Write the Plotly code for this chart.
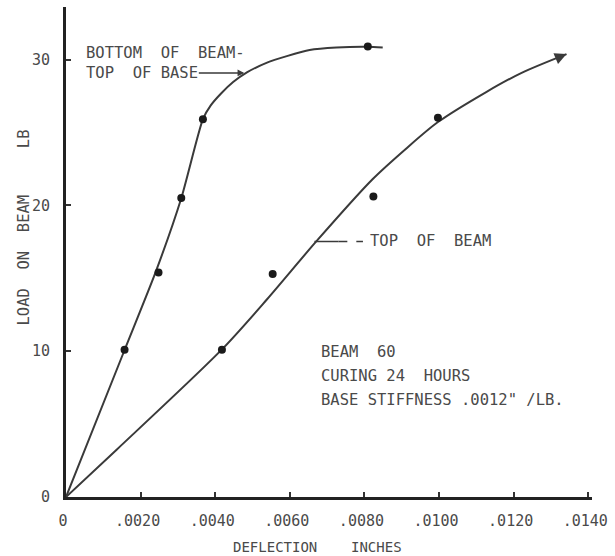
import plotly.graph_objects as go

# ---- data ----
bottom_pts_x = [0.00157, 0.00248, 0.00309, 0.00367, 0.00809]
bottom_pts_y = [10.1, 15.4, 20.5, 25.9, 30.9]
top_pts_x = [0.00418, 0.00554, 0.00824, 0.00997]
top_pts_y = [10.1, 15.3, 20.6, 26.0]

bottom_curve_x = [0, 0.00157, 0.00240, 0.00309, 0.00367, 0.00388, 0.00415, 0.00448,
                  0.00486, 0.00539, 0.00592, 0.00653, 0.00725, 0.00809, 0.00849]
bottom_curve_y = [0, 10.08, 15.4, 20.49, 25.91, 26.85, 27.65, 28.45,
                  29.13, 29.79, 30.23, 30.65, 30.82, 30.87, 30.82]

top_curve_x = [0, 0.001364, 0.00418, 0.00539, 0.00672, 0.008217, 0.0091, 0.00997, 0.011264, 0.0122, 0.013417]
top_curve_y = [0, 3.26, 10.12, 13.56, 17.56, 21.79, 23.85, 25.71, 27.77, 29.07, 30.37]

x_tick_vals = [0, 0.002, 0.004, 0.006, 0.008, 0.010, 0.012, 0.014]
x_tick_text = ["0", ".0020", ".0040", ".0060", ".0080", ".0100", ".0120", ".0140"]
y_tick_vals = [0, 10, 20, 30]
y_tick_text = ["0", "10", "20", "30"]

FONT = "DejaVu Sans Mono"
TXT = "#4a4a4a"
LINE = "#3a3a3a"

fig = go.Figure()
fig.add_trace(go.Scatter(x=bottom_curve_x, y=bottom_curve_y, mode="lines",
                         line=dict(color=LINE, width=2, shape="spline", smoothing=0.6),
                         hoverinfo="skip", showlegend=False))
fig.add_trace(go.Scatter(x=top_curve_x, y=top_curve_y, mode="lines",
                         line=dict(color=LINE, width=2, shape="spline", smoothing=0.8),
                         hoverinfo="skip", showlegend=False))
fig.add_trace(go.Scatter(x=bottom_pts_x, y=bottom_pts_y, mode="markers",
                         marker=dict(color="#1a1a1a", size=8), showlegend=False))
fig.add_trace(go.Scatter(x=top_pts_x, y=top_pts_y, mode="markers",
                         marker=dict(color="#1a1a1a", size=8), showlegend=False))

ann = []
def txt(x, y, s, size=15.5, **kw):
    d = dict(x=x, y=y, text=s, showarrow=False, xanchor="left", yanchor="middle",
             align="left", font=dict(family=FONT, size=size, color=TXT))
    d.update(kw)
    ann.append(d)

txt(0.00049, 29.75, "BOTTOM  OF  BEAM-<br>TOP  OF BASE")
txt(0.00809, 17.56, "TOP  OF  BEAM")
txt(0.00677, 9.95, "BEAM  60")
txt(0.00677, 8.27, "CURING 24  HOURS")
txt(0.00677, 6.66, "BASE STIFFNESS .0012\" /LB.")

# arrow TOP OF BASE -> curve
ann.append(dict(x=0.00478, y=29.08, ax=0.00352, ay=29.08, axref="x", ayref="y",
                xref="x", yref="y", text="", showarrow=True, arrowhead=2,
                arrowsize=0.9, arrowwidth=1.5, arrowcolor=LINE, standoff=0))
# arrow at end of top curve
ann.append(dict(x=0.013417, y=30.37, ax=0.01313, ay=30.06, axref="x", ayref="y",
                xref="x", yref="y", text="", showarrow=True, arrowhead=2,
                arrowsize=1.3, arrowwidth=1.8, arrowcolor=LINE, standoff=0))

# axis titles
ann.append(dict(x=0.478, y=-0.103, xref="paper", yref="paper", text="DEFLECTION    INCHES",
                xanchor="center", yanchor="middle",
                showarrow=False, font=dict(family=FONT, size=14, color=TXT)))
ann.append(dict(x=-0.078, y=0.55, xref="paper", yref="paper", text="LOAD  ON  BEAM     LB",
                xanchor="center", yanchor="middle",
                showarrow=False, textangle=-90, font=dict(family=FONT, size=15.5, color=TXT)))

shapes = [
    dict(type="line", x0=0.00666, x1=0.0073, y0=17.52, y1=17.52, xref="x", yref="y",
         line=dict(color=LINE, width=1.5)),
    dict(type="line", x0=0.0073, x1=0.00796, y0=17.52, y1=17.52, xref="x", yref="y",
         line=dict(color=LINE, width=1.5, dash="dash")),
]

fig.update_layout(
    width=615, height=556,
    margin=dict(l=66, r=16, t=7, b=59),
    paper_bgcolor="white", plot_bgcolor="white",
    annotations=ann, shapes=shapes,
    xaxis=dict(range=[0, 0.0141], tickvals=x_tick_vals, ticktext=x_tick_text,
               showgrid=False, zeroline=False, showline=True, linewidth=3, linecolor="#222",
               ticks="inside", ticklen=5, tickwidth=2, tickcolor="#333",
               ticklabelstandoff=8, ticklabelshift=-3, ticklabeloverflow="allow",
               tickfont=dict(family=FONT, size=15, color=TXT)),
    yaxis=dict(range=[0, 33.6], tickvals=y_tick_vals, ticktext=y_tick_text,
               showgrid=False, zeroline=False, showline=True, linewidth=3, linecolor="#222",
               ticks="inside", ticklen=5, tickwidth=2, tickcolor="#333",
               ticklabelstandoff=10,
               tickfont=dict(family=FONT, size=15, color=TXT)),
)

fig.write_html("out.html")
